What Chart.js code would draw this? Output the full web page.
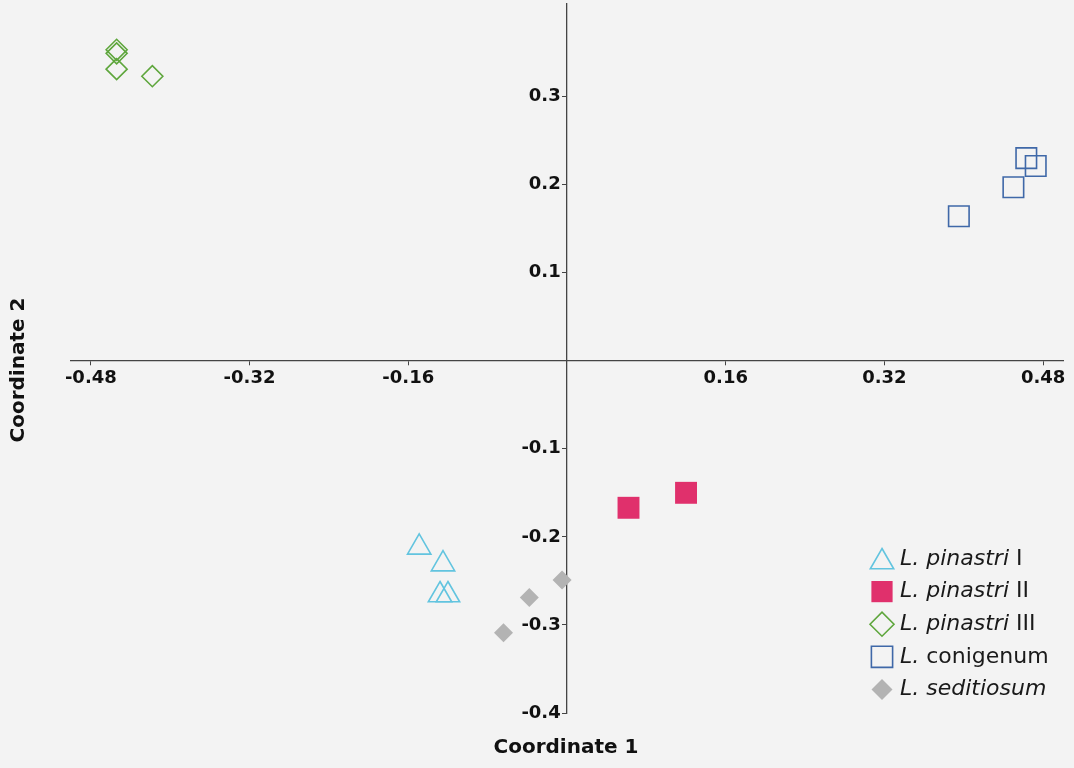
<!DOCTYPE html>
<html>
<head>
<meta charset="utf-8">
<script src="https://cdn.jsdelivr.net/npm/chart.js@4/dist/chart.umd.min.js"></script>
<style>
  html, body { margin: 0; padding: 0; background: #f3f3f3; }
  #wrap { width: 1074px; height: 768px; }
</style>
</head>
<body>
<div id="wrap"><canvas id="myChart" width="1074" height="768"></canvas></div>
<script>
// PCoA coordinates per group
const pinastriI   = [[-0.149, -0.212], [-0.125, -0.231], [-0.128, -0.266], [-0.120, -0.266]];
const pinastriII  = [[0.062, -0.167], [0.120, -0.150]];
const pinastriIII = [[-0.454, 0.353], [-0.454, 0.349], [-0.454, 0.331], [-0.418, 0.323]];
const conigenum   = [[0.463, 0.230], [0.4725, 0.221], [0.450, 0.197], [0.395, 0.164]];
const seditiosum  = [[-0.005, -0.249], [-0.038, -0.269], [-0.064, -0.309]];

const xTicks = [-0.48, -0.32, -0.16, 0.16, 0.32, 0.48];
const yTicks = [0.3, 0.2, 0.1, -0.1, -0.2, -0.3, -0.4];

// legend text: [text, italic]
const legendParts = [
  [['L. pinastri', true], [' I', false]],
  [['L. pinastri', true], [' II', false]],
  [['L. pinastri', true], [' III', false]],
  [['L.', true], [' conigenum', false]],
  [['L. seditiosum', true]]
];

const FONT = '"DejaVu Sans", "Liberation Sans", Arial, sans-serif';

function pts(arr) {
  return arr.map(function (p) { return { x: p[0], y: p[1] }; });
}

let data = {
  datasets: [
    { data: pts(pinastriI), pointStyle: 'triangle', pointRadius: 13.5, borderWidth: 1.6,
      borderColor: '#62c4df', backgroundColor: 'rgba(0,0,0,0)' },
    { data: pts(pinastriII), pointStyle: 'rect', pointRadius: 15.5, borderWidth: 0,
      borderColor: '#e0306c', backgroundColor: '#e0306c' },
    { data: pts(pinastriIII), pointStyle: 'rectRot', pointRadius: 10.5, borderWidth: 1.6,
      borderColor: '#5ea63c', backgroundColor: 'rgba(0,0,0,0)' },
    { data: pts(conigenum), pointStyle: 'rect', pointRadius: 14.5, borderWidth: 1.6,
      borderColor: '#3f68a8', backgroundColor: 'rgba(0,0,0,0)' },
    { data: pts(seditiosum), pointStyle: 'rectRot', pointRadius: 9.5, borderWidth: 0,
      borderColor: '#b3b3b3', backgroundColor: '#b3b3b3' }
  ]
};

// axis titles + legend in the lower right of the plot
const decorations = {
  id: 'decorations',
  afterDraw(chart) {
    const ctx = chart.ctx;
    ctx.save();
    ctx.fillStyle = '#111';
    ctx.font = 'bold 20px ' + FONT;
    ctx.textAlign = 'center';
    ctx.textBaseline = 'middle';
    ctx.fillText('Coordinate 1', 566, 748);
    ctx.translate(19, 370);
    ctx.rotate(-Math.PI / 2);
    ctx.fillText('Coordinate 2', 0, 0);
    ctx.restore();

    ctx.save();
    const x0 = 882, y0 = 559, step = 32.6;
    chart.data.datasets.forEach(function (ds, i) {
      const y = y0 + i * step;
      ctx.fillStyle = ds.backgroundColor;
      ctx.strokeStyle = ds.borderColor;
      ctx.lineWidth = ds.borderWidth || 1;
      let r = ds.pointRadius;
      if (ds.pointStyle === 'rect') r = 15;
      if (ds.pointStyle === 'rectRot') r = ds.borderWidth ? 12 : 10.5;
      Chart.helpers.drawPoint(ctx, { pointStyle: ds.pointStyle, radius: r, rotation: 0,
        borderWidth: ds.borderWidth }, x0, y + (ds.pointStyle === 'triangle' ? 3 : 0));
      let tx = 900;
      ctx.textBaseline = 'middle';
      ctx.textAlign = 'left';
      ctx.fillStyle = '#1a1a1a';
      legendParts[i].forEach(function (part) {
        ctx.font = (part[1] ? 'italic ' : '') + '22px ' + FONT;
        ctx.fillText(part[0], tx, y);
        tx += ctx.measureText(part[0]).width;
      });
    });
    ctx.restore();
  }
};

function axisOpts(ticks, suffix) {
  return {
    type: 'linear',
    grid: { display: true, drawOnChartArea: false, drawTicks: true, tickLength: 4, color: '#444', lineWidth: 1 },
    border: { display: true, color: '#444', width: 1.3 },
    ticks: {
      color: '#111',
      font: { family: FONT, size: 18, weight: 'bold' },
      padding: 3,
      autoSkip: false,
      maxRotation: 0,
      callback: function (v) { return String(v) + suffix; }
    },
    afterBuildTicks: function (scale) {
      scale.ticks = ticks.map(function (v) { return { value: v }; });
    },
    afterFit: function (scale) {
      if (scale.isHorizontal()) scale.height = 0; else scale.width = 0;
      scale.paddingLeft = scale.paddingRight = scale.paddingTop = scale.paddingBottom = 0;
    }
  };
}

const xScale = Object.assign(axisOpts(xTicks, ''), { min: -0.5, max: 0.5, position: { y: 0 } });
const yScale = Object.assign(axisOpts(yTicks, ' '), { min: -0.4, max: 0.405, position: { x: 0 } });

let config = {
  type: 'scatter',
  data,
  options: {
    responsive: false,
    animation: false,
    layout: { autoPadding: false, padding: { left: 71, right: 11, top: 4, bottom: 55 } },
    plugins: { legend: { display: false }, tooltip: { enabled: false } },
    scales: { x: xScale, y: yScale }
  },
  plugins: [decorations]
};

let myChart = new Chart(document.getElementById('myChart'), config);
</script>
</body>
</html>
